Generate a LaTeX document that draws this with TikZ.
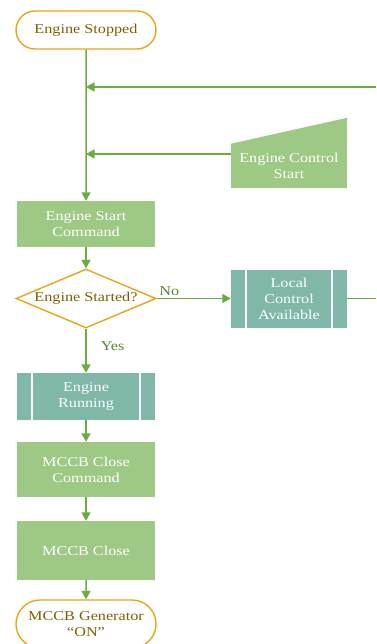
\documentclass[tikz,border=0pt]{standalone}
\usepackage{fontspec}
\setmainfont{Liberation Serif}[FakeStretch=1.2]
\usetikzlibrary{shapes,arrows.meta,positioning}
\definecolor{flowgreen}{HTML}{6AAD3D}
\definecolor{boxgreen}{HTML}{9DC984}
\definecolor{boxteal}{HTML}{7FB7A9}
\definecolor{termorange}{HTML}{E8A616}
\definecolor{termtext}{HTML}{7F6000}
\definecolor{labelgreen}{HTML}{548235}

\begin{document}
\begin{tikzpicture}[%
    x=1pt, y=-1pt,                        % work in reference pixels
    >={Triangle[length=8.5pt,width=9pt]}, % filled heads as in the chart
    font=\fontsize{13.5}{16}\selectfont,
    ]
% -------------------------------------------------
% Box styles
\tikzset{
  base/.style={on grid, align=center, inner sep=0pt},
  term/.style={base, rounded rectangle, draw=termorange, line width=1.4pt, fill=white,
    text=termtext, minimum width=140pt, minimum height=38pt},
  proc/.style={base, rectangle, fill=boxgreen, text=white, minimum width=138pt},
  pred/.style={proc, fill=boxteal, path picture={
    \draw[white, line width=1.2pt]
      ([xshift=15pt]path picture bounding box.north west) -- ([xshift=15pt]path picture bounding box.south west)
      ([xshift=-15pt]path picture bounding box.north east) -- ([xshift=-15pt]path picture bounding box.south east);}},
  decide/.style={base, diamond, aspect=2.37, draw=termorange, line width=1.4pt, fill=white,
    text=termtext, minimum width=140pt, minimum height=59pt},
  % Connector line styles
  flow/.style={->, draw=flowgreen, line width=1.5pt},
  line/.style={draw=flowgreen, line width=1.5pt},
  lbl/.style={text=labelgreen, inner sep=2pt}
}
\useasboundingbox (0,0) rectangle (376,644);
% -------------------------------------------------
% Main column
\node [term] (stop) at (86,30) {Engine Stopped};
\node [proc, minimum height=46pt, below=194pt of stop] (cmd) {Engine Start\\Command};
\node [decide, below=74.5pt of cmd] (dec) {Engine Started?};
\node [pred, minimum height=47pt, below=98pt of dec] (run) {Engine\\Running};
\node [proc, minimum height=55pt, below=73pt of run] (mcmd) {MCCB Close\\Command};
\node [proc, minimum height=59pt, below=81pt of mcmd] (mclose) {MCCB Close};
\node [term, minimum height=48pt, below=73.5pt of mclose] (gen) {MCCB Generator\\``ON''};

% Side branch
\node [pred, minimum width=116pt, minimum height=58pt, right=203pt of dec] (local) {Local\\Control\\Available};
\node [proc, minimum width=116pt, minimum height=44pt, above=132.5pt of local] (ecs) {Engine Control\\Start};
\fill [boxgreen] (ecs.north west) -- (ecs.north east) -- ([yshift=26pt]ecs.north east) -- cycle;

\coordinate (fback) at (376,87);

% -------------------------------------------------
% Connectors
\draw[flow] (stop) -- (cmd);
\draw[flow] (fback) -- (fback -| stop);
\draw[flow] ([yshift=12pt]ecs.west) -- ([yshift=12pt]ecs.west -| stop);
\draw[flow] (cmd) -- (dec);
\draw[flow] (dec) -- node[lbl, anchor=south west, at start] {No} (local);
\draw[line] (local) -- (local.east -| fback);
\draw[flow] (dec) -- node[lbl, anchor=west, pos=0.4, xshift=12pt] {Yes} (run);
\draw[flow] (run) -- (mcmd);
\draw[flow] (mcmd) -- (mclose);
\draw[flow] (mclose) -- (gen);
% -------------------------------------------------
\end{tikzpicture}
\end{document}
